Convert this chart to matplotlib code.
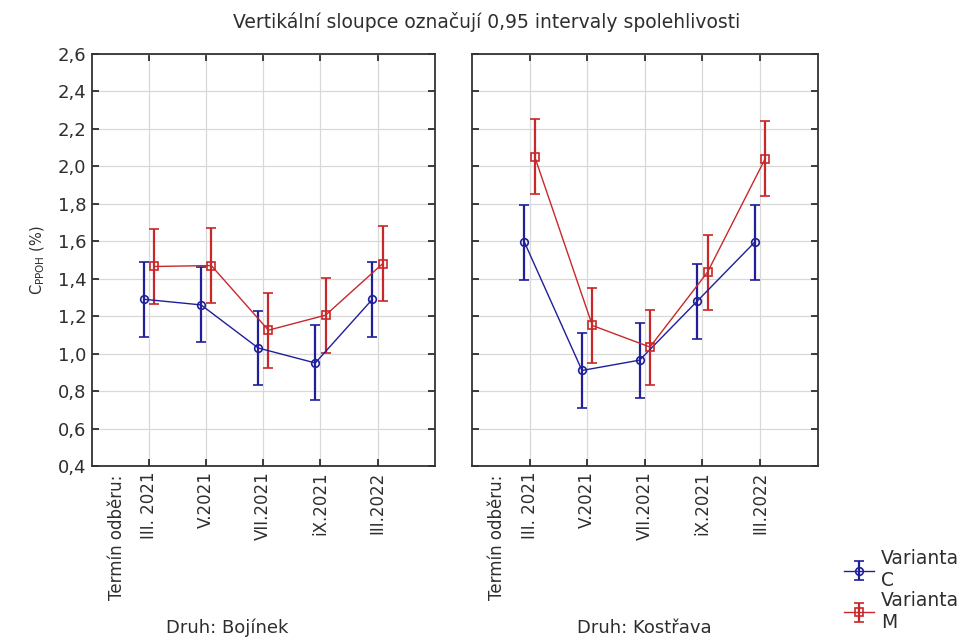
import numpy as np
import matplotlib
matplotlib.use("Agg")
import matplotlib.pyplot as plt
from matplotlib.ticker import FuncFormatter
import matplotlib.transforms as mtransforms

plt.rcParams['font.family'] = ['DejaVu Sans']

terms = ["III. 2021", "V.2021", "VII.2021", "iX.2021", "III.2022"]
species = ["Druh: Bojínek", "Druh: Kostřava"]

# means and 95% CI half-widths
bojinek_c = [1.29, 1.26, 1.03, 0.95, 1.29]
bojinek_m = [1.465, 1.47, 1.125, 1.205, 1.48]
kostrava_c = [1.595, 0.91, 0.965, 1.28, 1.595]
kostrava_m = [2.05, 1.15, 1.035, 1.435, 2.04]
ci_half = 0.2

title = "Vertikální sloupce označují 0,95 intervaly spolehlivosti"
blue = "#1f1f9a"
red = "#c8282a"
txt = '#2e2e2e'

fig = plt.figure(figsize=(9.68, 6.41), dpi=100)
ax1 = fig.add_axes([0.095, 0.273, 0.354, 0.643])
ax2 = fig.add_axes([0.4876, 0.273, 0.357, 0.643], sharey=ax1)

comma = FuncFormatter(lambda v, p: f"{v:.1f}".replace(".", ","))
x = np.arange(1, len(terms) + 1)
off = 0.09

handles = []
for ax, c_vals, m_vals, name, nx in [(ax1, bojinek_c, bojinek_m, species[0], 0.394),
                                     (ax2, kostrava_c, kostrava_m, species[1], 0.5)]:
    hc = ax.errorbar(x - off, c_vals, yerr=ci_half, color=blue, lw=1.0, elinewidth=1.6,
                     capsize=3.5, marker='o', ms=5.5, mfc='none', mec=blue, mew=1.2, zorder=3)
    hm = ax.errorbar(x + off, m_vals, yerr=ci_half, color=red, lw=1.0, elinewidth=1.6,
                     capsize=3.5, marker='s', ms=6, mfc='none', mec=red, mew=1.2, zorder=3)
    handles = [hc, hm]
    ax.set_xlim(0, 6)
    ax.set_ylim(0.4, 2.6)
    ax.set_yticks(np.arange(0.4, 2.61, 0.2))
    ax.set_xticks(x)
    ax.set_xticklabels(terms, rotation=90, fontsize=12)
    ax.yaxis.set_major_formatter(comma)
    ax.grid(True, color='#d8d8d8', lw=0.9)
    ax.set_axisbelow(True)
    ax.tick_params(direction='in', length=5, width=1.3, top=True, right=True,
                   labelsize=12, colors=txt, pad=4)
    ax.tick_params(axis='y', labelsize=13)
    for s in ax.spines.values():
        s.set_linewidth(1.3)
        s.set_color('#333333')
    tr = mtransforms.blended_transform_factory(ax.transData, ax.transAxes)
    ax.text(1 - 0.56, -0.022, "Termín odběru:", transform=tr, rotation=90,
            ha='center', va='top', fontsize=12, color=txt)
    ax.text(nx, -0.392, name, transform=ax.transAxes, ha='center', va='center',
            fontsize=13, color=txt)

ax2.tick_params(labelleft=False)
ax1.set_ylabel("C$_{\\mathregular{PPOH}}$ (%)", fontsize=10.5, color=txt, labelpad=8)

fig.text(0.503, 0.966, title, ha='center', va='center', fontsize=13.5, color=txt)

leg = fig.legend(handles, ["Varianta\nC", "Varianta\nM"], loc='upper left',
                 bbox_to_anchor=(0.862, 0.158), frameon=False, fontsize=13.5,
                 handlelength=1.6, handletextpad=0.4, labelspacing=0.05, borderpad=0,
                 labelcolor=txt)

fig.savefig("out.png", dpi=100)
